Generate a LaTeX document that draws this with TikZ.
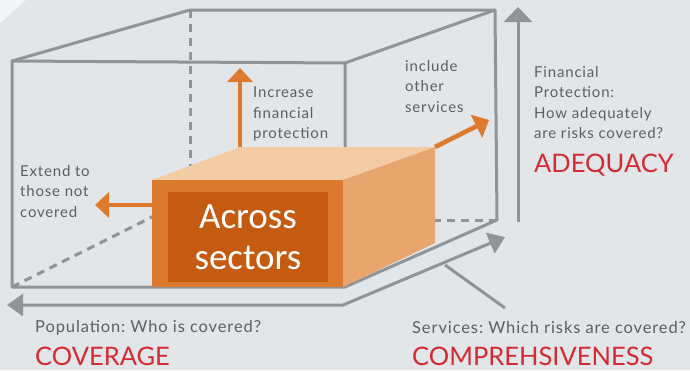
\documentclass[tikz,border=0pt]{standalone}
\usepackage{fontspec}
\setmainfont{Lato}
\newfontfamily\boxfont{Carlito}
\newfontfamily\notefont[LetterSpace=5.4]{Lato}
\usetikzlibrary{positioning,arrows.meta}
\definecolor{bgcol}{HTML}{E3E6E9}
\definecolor{bglight}{HTML}{F4F5F6}
\definecolor{wiregrey}{HTML}{8F9499}
\definecolor{notegrey}{HTML}{5B5F63}
\definecolor{titlered}{HTML}{D42A32}
\definecolor{frontor}{HTML}{DB792E}
\definecolor{topor}{HTML}{F3CBA4}
\definecolor{sideor}{HTML}{E9A56E}
\definecolor{labelor}{HTML}{C55A11}
\definecolor{arrowor}{HTML}{DE7A2E}
\frenchspacing

\begin{document}
\begin{tikzpicture}[x=1pt,y=-1pt]
\tikzstyle{wire}=[draw=wiregrey, line width=3pt, line join=round]
\tikzstyle{hidden}=[wire, dash pattern=on 8pt off 6pt]
\tikzstyle{axis}=[wiregrey, line width=3pt, line join=miter]
\tikzstyle{widen}=[arrowor, line width=4.5pt, -{Triangle[width=25pt,length=14pt]}]
\tikzstyle{note}=[text=notegrey, font=\notefont\fontsize{15}{20.5}\selectfont, align=left, inner sep=0pt, anchor=north west]
\tikzstyle{title}=[text=titlered, font=\fontsize{25.5}{27}\selectfont, inner sep=0pt, anchor=base west]
\tikzstyle{oneline}=[text=notegrey, font=\notefont\fontsize{16.5}{18}\selectfont, inner sep=0pt, anchor=base west]
  % background
  \fill[bgcol] (0,0) rectangle (690,370);
  \fill[bglight] (0,0) -- (26,0) -- (0,23) -- cycle;
  % outer cube
  \coordinate (f1) at (12,61);
  \coordinate (f2) at (345,63);
  \coordinate (f3) at (345,287);
  \coordinate (f4) at (12,287);
  \coordinate (b1) at (190,10);
  \coordinate (b2) at (495,10);
  \coordinate (b3) at (497,220);
  \coordinate (b4) at (190,198);
  \draw[hidden] (b1) -- (190,220);
  \draw[hidden] (f4) -- (b4);
  \draw[hidden] (b3) -- (190,220);
  \draw[wire] (f4) -- (f1) -- (f2) -- (f3) -- cycle;
  \draw[wire] (f1) -- (b1) -- (b2) -- (b3) -- (f3);
  \draw[wire] (f2) -- (b2);
  % orange box
  \coordinate (o1) at (152,180);
  \coordinate (o2) at (343,180);
  \coordinate (o3) at (343,287);
  \coordinate (o4) at (152,287);
  \coordinate (o5) at (240,147);
  \coordinate (o6) at (435,147);
  \coordinate (o7) at (435,243);
  \fill[topor] (o1) -- (o5) -- (o6) -- (o2) -- cycle;
  \fill[sideor] (o2) -- (o6) -- (o7) -- (o3) -- cycle;
  \fill[frontor] (o1) rectangle (o3);
  \node[fill=labelor, minimum width=160pt, minimum height=90pt, inner sep=0pt,
        text=white, align=center, font=\boxfont\fontsize{37}{41}\selectfont]
        (sectors) at (248,237) {Across\\sectors};
  % growth arrows
  \coordinate (upend) at (240,68);
  \coordinate (leftend) at (95,205);
  \coordinate (rightend) at (489,120);
  \draw[widen] (o5) -- (upend);
  \draw[widen] (152,205) -- (leftend);
  \draw[widen] (o6) -- (rightend);
  % axes
  \coordinate (vstart) at (518,222);
  \coordinate (vend) at (518,7);
  \coordinate (hend) at (7,305);
  \coordinate (corner) at (343,305);
  \coordinate (dend) at (505,237);
  \draw[axis, -{Triangle[width=28pt,length=15pt]}] (vstart) -- (vend);
  \draw[axis, {Triangle[width=22pt,length=16pt]}-{Triangle[width=22pt,length=16pt]}] (hend) -- (corner) -- (dend);
  \coordinate (ptrtop) at (445,265);
  \coordinate (ptrend) at (505,308);
  \draw[axis] (ptrtop) -- (ptrend);
  % labels
  \node[note] (increase) at (253,87) {Increase\\financial\\protection};
  \node[note] (extend) at (20,165) {Extend to\\those not\\covered};
  \node[note] (include) at (405,60) {include\\other\\services};
  \node[note] (finprot) at (534,66) {Financial\\Protection:\\How adequately\\are risks covered?};
  \node[title] (adequacy) at (534,172) {ADEQUACY};
  \node[oneline] (population) at (35,332) {Population: Who is covered?};
  \node[title] (coverage) at (35,365) {COVERAGE};
  \node[oneline] (services) at (412,333) {Services: Which risks are covered?};
  \node[title] (comprehs) at (412,365) {COMPREHSIVENESS};
\end{tikzpicture}
\end{document}
